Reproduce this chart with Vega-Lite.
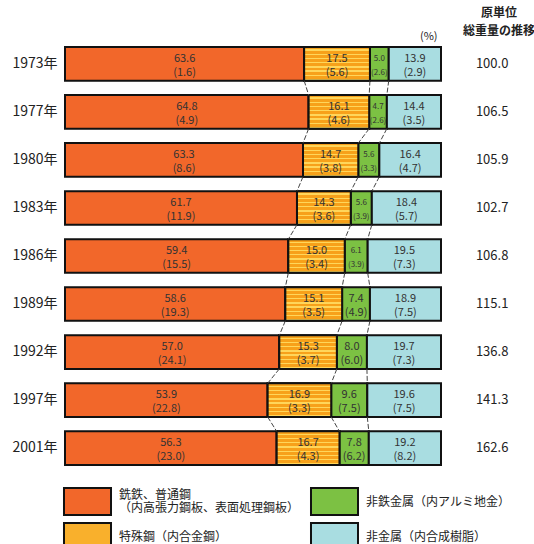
{
  "$schema": "https://vega.github.io/schema/vega-lite/v6.json",
  "width": 376,
  "height": 418,
  "autosize": "none",
  "padding": {"left": 65, "top": 47, "right": 93, "bottom": 79},
  "background": "white",
  "config": {
    "view": {"stroke": null},
    "font": "Noto Sans CJK JP",
    "text": {"font": "Noto Sans CJK JP"},
    "axis": {"labelFont": "Noto Sans CJK JP", "titleFont": "Noto Sans CJK JP"},
    "legend": {"labelFont": "Noto Sans CJK JP"},
    "style": {"guide-label": {"font": "Noto Sans CJK JP"}, "guide-title": {"font": "Noto Sans CJK JP"}}
  },
  "title": {
    "text": ["原単位", "総重量の推移"],
    "anchor": "end",
    "frame": "group",
    "align": "center",
    "dx": 58,
    "dy": 10,
    "offset": 2,
    "fontSize": 12,
    "fontWeight": "bold",
    "color": "#222",
    "lineHeight": 18,
    "font": "Noto Sans CJK JP"
  },
  "datasets": {
    "shares": [
      {"year": "1973年", "cat": "銑鉄、普通鋼\n（内高張力鋼板、表面処理鋼板）", "v": 63.6, "p": 1.6},
      {"year": "1973年", "cat": "特殊鋼（内合金鋼）", "v": 17.5, "p": 5.6},
      {"year": "1973年", "cat": "非鉄金属（内アルミ地金）", "v": 5.0, "p": 2.6},
      {"year": "1973年", "cat": "非金属（内合成樹脂）", "v": 13.9, "p": 2.9},
      {"year": "1977年", "cat": "銑鉄、普通鋼\n（内高張力鋼板、表面処理鋼板）", "v": 64.8, "p": 4.9},
      {"year": "1977年", "cat": "特殊鋼（内合金鋼）", "v": 16.1, "p": 4.6},
      {"year": "1977年", "cat": "非鉄金属（内アルミ地金）", "v": 4.7, "p": 2.6},
      {"year": "1977年", "cat": "非金属（内合成樹脂）", "v": 14.4, "p": 3.5},
      {"year": "1980年", "cat": "銑鉄、普通鋼\n（内高張力鋼板、表面処理鋼板）", "v": 63.3, "p": 8.6},
      {"year": "1980年", "cat": "特殊鋼（内合金鋼）", "v": 14.7, "p": 3.8},
      {"year": "1980年", "cat": "非鉄金属（内アルミ地金）", "v": 5.6, "p": 3.3},
      {"year": "1980年", "cat": "非金属（内合成樹脂）", "v": 16.4, "p": 4.7},
      {"year": "1983年", "cat": "銑鉄、普通鋼\n（内高張力鋼板、表面処理鋼板）", "v": 61.7, "p": 11.9},
      {"year": "1983年", "cat": "特殊鋼（内合金鋼）", "v": 14.3, "p": 3.6},
      {"year": "1983年", "cat": "非鉄金属（内アルミ地金）", "v": 5.6, "p": 3.9},
      {"year": "1983年", "cat": "非金属（内合成樹脂）", "v": 18.4, "p": 5.7},
      {"year": "1986年", "cat": "銑鉄、普通鋼\n（内高張力鋼板、表面処理鋼板）", "v": 59.4, "p": 15.5},
      {"year": "1986年", "cat": "特殊鋼（内合金鋼）", "v": 15.0, "p": 3.4},
      {"year": "1986年", "cat": "非鉄金属（内アルミ地金）", "v": 6.1, "p": 3.9},
      {"year": "1986年", "cat": "非金属（内合成樹脂）", "v": 19.5, "p": 7.3},
      {"year": "1989年", "cat": "銑鉄、普通鋼\n（内高張力鋼板、表面処理鋼板）", "v": 58.6, "p": 19.3},
      {"year": "1989年", "cat": "特殊鋼（内合金鋼）", "v": 15.1, "p": 3.5},
      {"year": "1989年", "cat": "非鉄金属（内アルミ地金）", "v": 7.4, "p": 4.9},
      {"year": "1989年", "cat": "非金属（内合成樹脂）", "v": 18.9, "p": 7.5},
      {"year": "1992年", "cat": "銑鉄、普通鋼\n（内高張力鋼板、表面処理鋼板）", "v": 57.0, "p": 24.1},
      {"year": "1992年", "cat": "特殊鋼（内合金鋼）", "v": 15.3, "p": 3.7},
      {"year": "1992年", "cat": "非鉄金属（内アルミ地金）", "v": 8.0, "p": 6.0},
      {"year": "1992年", "cat": "非金属（内合成樹脂）", "v": 19.7, "p": 7.3},
      {"year": "1997年", "cat": "銑鉄、普通鋼\n（内高張力鋼板、表面処理鋼板）", "v": 53.9, "p": 22.8},
      {"year": "1997年", "cat": "特殊鋼（内合金鋼）", "v": 16.9, "p": 3.3},
      {"year": "1997年", "cat": "非鉄金属（内アルミ地金）", "v": 9.6, "p": 7.5},
      {"year": "1997年", "cat": "非金属（内合成樹脂）", "v": 19.6, "p": 7.5},
      {"year": "2001年", "cat": "銑鉄、普通鋼\n（内高張力鋼板、表面処理鋼板）", "v": 56.3, "p": 23.0},
      {"year": "2001年", "cat": "特殊鋼（内合金鋼）", "v": 16.7, "p": 4.3},
      {"year": "2001年", "cat": "非鉄金属（内アルミ地金）", "v": 7.8, "p": 6.2},
      {"year": "2001年", "cat": "非金属（内合成樹脂）", "v": 19.2, "p": 8.2}
    ],
    "totals": [
      {"year": "1973年", "tot": "100.0"},
      {"year": "1977年", "tot": "106.5"},
      {"year": "1980年", "tot": "105.9"},
      {"year": "1983年", "tot": "102.7"},
      {"year": "1986年", "tot": "106.8"},
      {"year": "1989年", "tot": "115.1"},
      {"year": "1992年", "tot": "136.8"},
      {"year": "1997年", "tot": "141.3"},
      {"year": "2001年", "tot": "162.6"}
    ]
  },
  "layer": [
    {
      "data": {"name": "shares"},
      "transform": [
        {"calculate": "indexof(['特殊鋼（内合金鋼）','非鉄金属（内アルミ地金）','非金属（内合成樹脂）'], datum.cat) + 1", "as": "ord"},
        {"stack": "v", "groupby": ["year"], "sort": [{"field": "ord", "order": "ascending"}], "as": ["x0", "x1"]}
      ],
      "mark": {"type": "bar", "stroke": "#111", "strokeWidth": 2},
      "encoding": {
        "y": {
          "field": "year", "type": "nominal", "sort": "ascending",
          "scale": {"paddingInner": 0.3, "paddingOuter": 0},
          "axis": {"title": null, "domain": false, "ticks": false, "labelFontSize": 14, "labelPadding": 8, "labelColor": "#222", "labelFont": "Noto Sans CJK JP"}
        },
        "x": {
          "field": "x0", "type": "quantitative",
          "scale": {"domain": [0, 100], "nice": false},
          "axis": {"orient": "top", "labels": false, "ticks": false, "domain": false, "grid": false, "title": "(%)", "titleAnchor": "end", "titleFontSize": 11, "titleFontWeight": "normal", "titleColor": "#222", "titlePadding": 6, "titleX": 372}
        },
        "x2": {"field": "x1"},
        "color": {
          "field": "cat", "type": "nominal",
          "scale": {
            "domain": ["銑鉄、普通鋼\n（内高張力鋼板、表面処理鋼板）", "特殊鋼（内合金鋼）", "非鉄金属（内アルミ地金）", "非金属（内合成樹脂）"],
            "range": ["#F2672A", "#F9B02C", "#7CC143", "#A9DDE1"]
          },
          "legend": {
            "orient": "none", "legendX": 8, "legendY": 440, "padding": 0,
            "title": null, "columns": 2, "columnPadding": 6, "rowPadding": 0,
            "symbolType": "M-1.741,-1H1.741V1H-1.741Z", "symbolSize": 729,
            "symbolStrokeColor": "#111", "symbolStrokeWidth": 2, "symbolOpacity": 1,
            "labelFontSize": 12, "labelOffset": 17, "labelColor": "#222", "labelLimit": 300,
            "labelFont": "Noto Sans CJK JP",
            "labelExpr": "split(datum.label, '\\n')",
            "encode": {"labels": {"update": {"dy": {"signal": "length(datum.label) > 12 ? -7 : 0"}, "lineHeight": {"value": 13}}}}
          }
        }
      }
    },
    {
      "data": {"name": "shares"},
      "transform": [
        {"calculate": "indexof(['特殊鋼（内合金鋼）','非鉄金属（内アルミ地金）','非金属（内合成樹脂）'], datum.cat) + 1", "as": "ord"},
        {"stack": "v", "groupby": ["year"], "sort": [{"field": "ord", "order": "ascending"}], "as": ["x0", "x1"]},
        {"filter": "datum.ord == 1"}
      ],
      "mark": {
        "type": "bar", "stroke": "#111", "strokeWidth": 2,
        "fill": {"gradient": "linear", "x1": 0, "y1": 0, "x2": 0, "y2": 1, "stops": [
          {"offset": 0, "color": "#F7A11A"},
          {"offset": 0.07, "color": "#F7A11A"}, {"offset": 0.07, "color": "#FFD65A"}, {"offset": 0.11, "color": "#FFD65A"}, {"offset": 0.11, "color": "#F7A11A"},
          {"offset": 0.195, "color": "#F7A11A"}, {"offset": 0.195, "color": "#FFD65A"}, {"offset": 0.235, "color": "#FFD65A"}, {"offset": 0.235, "color": "#F7A11A"},
          {"offset": 0.32, "color": "#F7A11A"}, {"offset": 0.32, "color": "#FFD65A"}, {"offset": 0.36, "color": "#FFD65A"}, {"offset": 0.36, "color": "#F7A11A"},
          {"offset": 0.445, "color": "#F7A11A"}, {"offset": 0.445, "color": "#FFD65A"}, {"offset": 0.485, "color": "#FFD65A"}, {"offset": 0.485, "color": "#F7A11A"},
          {"offset": 0.57, "color": "#F7A11A"}, {"offset": 0.57, "color": "#FFD65A"}, {"offset": 0.61, "color": "#FFD65A"}, {"offset": 0.61, "color": "#F7A11A"},
          {"offset": 0.695, "color": "#F7A11A"}, {"offset": 0.695, "color": "#FFD65A"}, {"offset": 0.735, "color": "#FFD65A"}, {"offset": 0.735, "color": "#F7A11A"},
          {"offset": 0.82, "color": "#F7A11A"}, {"offset": 0.82, "color": "#FFD65A"}, {"offset": 0.86, "color": "#FFD65A"}, {"offset": 0.86, "color": "#F7A11A"},
          {"offset": 0.945, "color": "#F7A11A"}, {"offset": 0.945, "color": "#FFD65A"}, {"offset": 0.985, "color": "#FFD65A"}, {"offset": 0.985, "color": "#F7A11A"},
          {"offset": 1, "color": "#F7A11A"}
        ]}
      },
      "encoding": {
        "y": {"field": "year", "type": "nominal"},
        "x": {"field": "x0", "type": "quantitative"},
        "x2": {"field": "x1"}
      }
    },
    {
      "data": {"name": "shares"},
      "transform": [
        {"calculate": "indexof(['特殊鋼（内合金鋼）','非鉄金属（内アルミ地金）','非金属（内合成樹脂）'], datum.cat) + 1", "as": "ord"},
        {"stack": "v", "groupby": ["year"], "sort": [{"field": "ord", "order": "ascending"}], "as": ["x0", "x1"]},
        {"window": [{"op": "lead", "field": "x1", "as": "nx1"}, {"op": "lead", "field": "year", "as": "nyear"}], "groupby": ["cat"], "sort": [{"field": "year", "order": "ascending"}]},
        {"filter": "datum.nyear != null && datum.ord < 3"}
      ],
      "mark": {"type": "rule", "color": "#444", "strokeWidth": 1, "strokeDash": [5, 2]},
      "encoding": {
        "x": {"field": "x1", "type": "quantitative"},
        "x2": {"field": "nx1"},
        "y": {"field": "year", "type": "nominal", "bandPosition": 1},
        "y2": {"field": "nyear", "bandPosition": 0}
      }
    },
    {
      "data": {"name": "shares"},
      "transform": [
        {"calculate": "indexof(['特殊鋼（内合金鋼）','非鉄金属（内アルミ地金）','非金属（内合成樹脂）'], datum.cat) + 1", "as": "ord"},
        {"stack": "v", "groupby": ["year"], "sort": [{"field": "ord", "order": "ascending"}], "as": ["x0", "x1"]},
        {"calculate": "(datum.x0 + datum.x1) / 2", "as": "xm"},
        {"calculate": "format(datum.v, '.1f') + '\\n(' + format(datum.p, '.1f') + ')'", "as": "lab"}
      ],
      "mark": {"type": "text", "lineBreak": "\n", "color": "#333", "lineHeight": 14, "baseline": "middle", "align": "center", "dy": -5},
      "encoding": {
        "x": {"field": "xm", "type": "quantitative"},
        "y": {"field": "year", "type": "nominal"},
        "text": {"field": "lab"},
        "size": {"condition": {"test": "datum.v < 7", "value": 8}, "value": 11}
      }
    },
    {
      "data": {"name": "totals"},
      "mark": {"type": "text", "fontSize": 13, "color": "#222", "align": "center", "baseline": "middle"},
      "encoding": {
        "x": {"datum": 113.6, "type": "quantitative"},
        "y": {"field": "year", "type": "nominal"},
        "text": {"field": "tot"}
      }
    }
  ]
}
